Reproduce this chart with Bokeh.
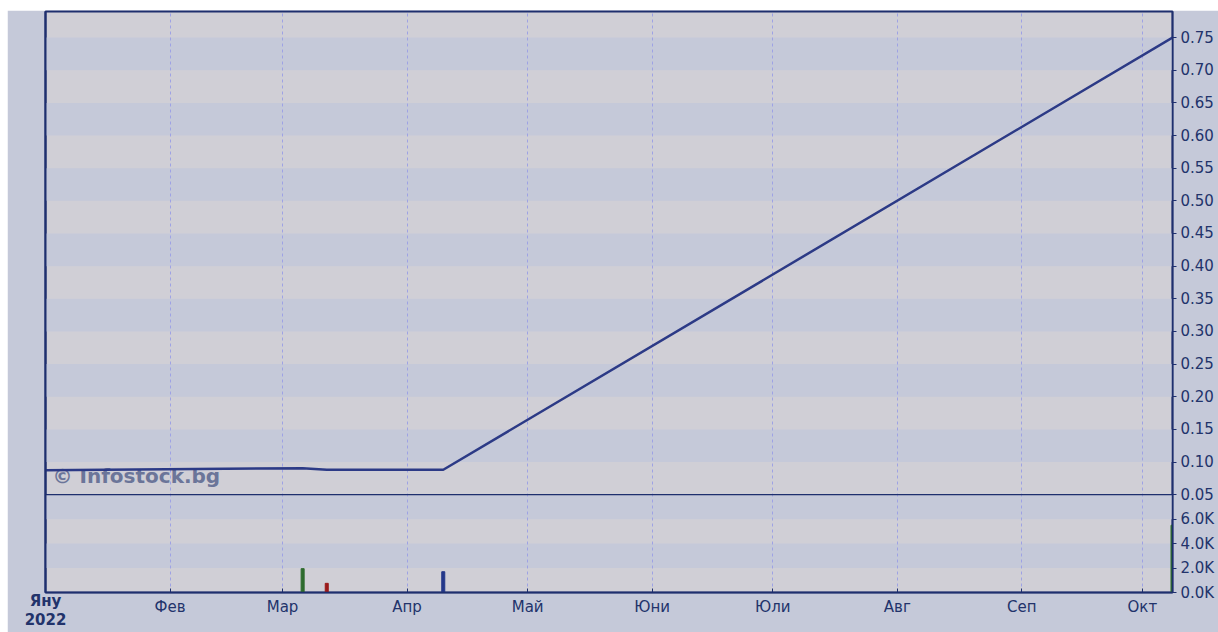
import pandas as pd
from bokeh.plotting import figure
from bokeh.models import (Range1d, FixedTicker, CustomJSTickFormatter, Span, Label,
                          ColumnDataSource, DatetimeAxis, LinearAxis)
from bokeh.embed import file_html
from bokeh.resources import INLINE

# ---------------- data ----------------
month_starts = ["2022-01-01", "2022-02-01", "2022-03-01", "2022-04-01", "2022-05-01",
                "2022-06-01", "2022-07-01", "2022-08-01", "2022-09-01", "2022-10-01"]
month_labels = ["Яну", "Фев", "Мар", "Апр", "Май", "Юни", "Юли", "Авг", "Сеп", "Окт"]
year_label = "2022"

price_dates = ["2021-12-31", "2022-03-06", "2022-03-12", "2022-04-10", "2022-10-08 12:00"]
price_values = [0.0875, 0.0905, 0.0882, 0.0882, 0.75]

volume_dates = ["2022-03-06", "2022-03-12", "2022-04-10", "2022-10-08 12:00"]
volume_values = [1950, 750, 1700, 5500]
volume_direction = ["up", "down", "flat", "up"]

price_ticks = [0.05, 0.10, 0.15, 0.20, 0.25, 0.30, 0.35, 0.40, 0.45, 0.50,
               0.55, 0.60, 0.65, 0.70, 0.75]
volume_ticks = [0, 2000, 4000, 6000]
volume_tick_labels = ["0.0K", "2.0K", "4.0K", "6.0K"]

x_start_date = "2022-01-01"
x_end_date = "2022-10-08 12:00"
price_lo, price_hi = 0.05, 0.79
volume_hi = 8000

# ---------------- styling / layout ----------------
NAVY = "#1E2F6E"
TEXT = "#22336B"
BLUE_BG = "#C5C9D9"
LIGHT_BG = "#D0CFD6"
GRID = "#9EA2E4"
LINE = "#2C3A86"
DIR_COLORS = {"up": "#2E6B2E", "down": "#9B1B1B", "flat": "#24388A"}
FONT = "DejaVu Sans"

price_px, vol_px = 484, 98
frame_px = price_px + vol_px
k = price_px / (price_hi - price_lo)
y_lo = price_lo - vol_px / k
vol_top = volume_hi * frame_px / vol_px


def ms(d):
    return float(pd.Timestamp(d).value // 10**6)


def vol_to_price(v):
    return y_lo + v / vol_top * (price_hi - y_lo)


month_ms = [ms(d) for d in month_starts]
day_ms = 86400000.0

p = figure(width=1211, height=622, margin=(10, 0, 0, 7), x_axis_type="datetime",
           x_range=Range1d(ms(x_start_date), ms(x_end_date)),
           y_range=Range1d(y_lo, price_hi), y_axis_location="right",
           output_backend="svg", toolbar_location=None,
           min_border_left=38, min_border_right=46, min_border_top=1, min_border_bottom=39)
p.extra_y_ranges = {"vol": Range1d(0, vol_top)}

p.background_fill_color = LIGHT_BG
p.border_fill_color = BLUE_BG
p.outline_line_color = NAVY
p.outline_line_width = 2

# combined tick list for the shared right axis
all_ticks = [vol_to_price(v) for v in volume_ticks] + price_ticks
all_labels = volume_tick_labels + ["%.2f" % t for t in price_ticks]

# grids
p.ygrid.ticker = FixedTicker(ticks=all_ticks)
p.ygrid.grid_line_color = None
p.ygrid.band_fill_color = BLUE_BG
p.ygrid.band_fill_alpha = 1.0
p.ygrid.level = "image"

p.xgrid.ticker = FixedTicker(ticks=month_ms[1:])
p.xgrid.grid_line_color = GRID
p.xgrid.grid_line_dash = "3 3"
p.xgrid.grid_line_width = 1

# y axis (right)
ya = p.yaxis[0]
ya.ticker = FixedTicker(ticks=all_ticks)
ya.formatter = CustomJSTickFormatter(args=dict(tv=all_ticks, tl=all_labels), code="""
for (let i = 0; i < tv.length; i++) { if (Math.abs(tv[i] - tick) < 1e-6) return tl[i]; }
return "";
""")
ya.major_tick_out = 4
ya.major_tick_in = 0
ya.minor_tick_out = 0
ya.minor_tick_in = 0
ya.axis_line_color = NAVY
ya.axis_line_width = 1.5
ya.major_tick_line_color = NAVY
ya.major_label_standoff = 4
ya.major_label_text_font = FONT
ya.major_label_text_font_size = "15px"
ya.major_label_text_color = TEXT

# left frame edge: a bare axis line
yl = LinearAxis(ticker=FixedTicker(ticks=[]), major_tick_in=0, major_tick_out=0,
                minor_tick_in=0, minor_tick_out=0, major_label_standoff=0,
                axis_line_color=NAVY, axis_line_width=2)
p.add_layout(yl, "left")


def style_x(ax, standoff, bold):
    ax.ticker = FixedTicker(ticks=month_ms)
    ax.minor_tick_in = 0
    ax.minor_tick_out = 0
    ax.major_tick_out = 0
    ax.major_label_standoff = standoff
    ax.major_label_text_font = FONT
    ax.major_label_text_font_size = "15px"
    ax.major_label_text_color = TEXT
    if bold:
        ax.major_label_text_font_style = "bold"


# inner x axis: axis line, ticks and the bold first-month/year label
xa = p.xaxis[0]
style_x(xa, -1, True)
xa.formatter = CustomJSTickFormatter(args=dict(mt=month_ms, ml=month_labels, yr=year_label), code="""
if (Math.abs(mt[0] - tick) < 1) return ml[0] + "\\n" + yr;
return "";
""")
xa.major_label_text_line_height = 1.09
xa.major_tick_in = 4
xa.axis_line_color = NAVY
xa.axis_line_width = 1.5
xa.major_tick_line_color = NAVY

# outer x axis: the other month names, pulled up to the same row
xb = DatetimeAxis()
style_x(xb, -35, False)
xb.formatter = CustomJSTickFormatter(args=dict(mt=month_ms, ml=month_labels), code="""
for (let i = 1; i < mt.length; i++) { if (Math.abs(mt[i] - tick) < 1) return ml[i]; }
return "";
""")
xb.major_tick_in = 0
xb.axis_line_color = None
xb.major_tick_line_color = None
p.add_layout(xb, "below")

# watermark
p.add_layout(Label(x=ms(x_start_date), y=price_lo, x_offset=7, y_offset=19,
                   text="© Infostock.bg", text_font=FONT, text_font_style="bold",
                   text_font_size="20px", text_color="#6B7599", text_baseline="alphabetic",
                   level="underlay"))

# volume bars
vsrc = ColumnDataSource(dict(x=[ms(d) for d in volume_dates], top=volume_values,
                             color=[DIR_COLORS[d] for d in volume_direction]))
p.vbar(x="x", top="top", bottom=0, width=0.75 * day_ms, color="color", source=vsrc,
       y_range_name="vol")

# price line
psrc = ColumnDataSource(dict(x=[ms(d) for d in price_dates], y=price_values))
p.line(x="x", y="y", source=psrc, line_color=LINE, line_width=2.5)

# separator between panels
p.add_layout(Span(location=price_lo, dimension="width", line_color=NAVY, line_width=1.3))

open("out.html", "w").write(file_html(p, INLINE))
